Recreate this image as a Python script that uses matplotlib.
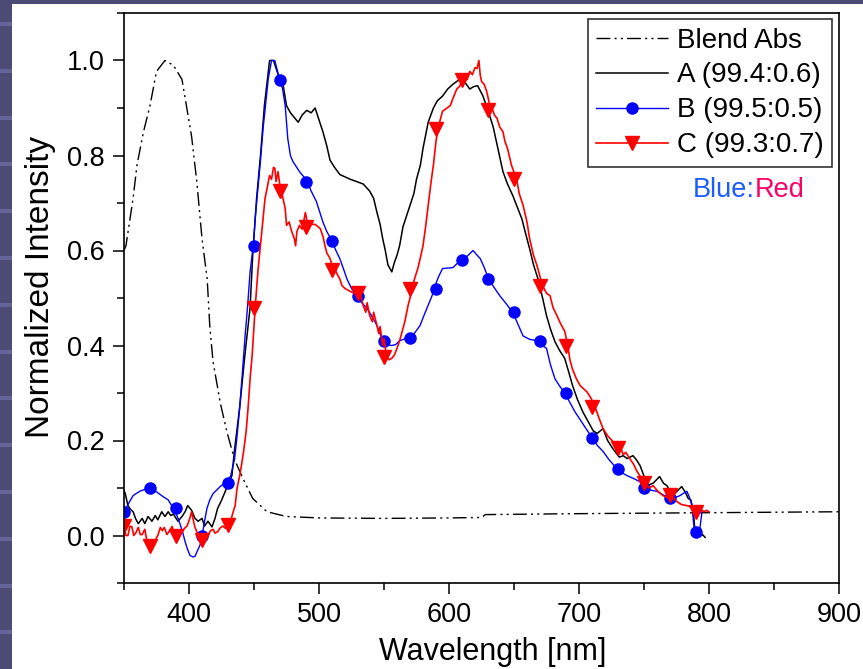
import matplotlib
matplotlib.use("Agg")
import matplotlib.pyplot as plt
from matplotlib.lines import Line2D
from matplotlib.patches import Rectangle
from matplotlib.ticker import MultipleLocator, FormatStrFormatter

plt.rcParams['font.family'] = ['Liberation Sans', 'DejaVu Sans']

# ---- data ----
abs_wl = [350, 351.5, 357, 360, 365, 370, 375, 381.5, 388, 394.6, 398, 402, 406, 410, 414, 416,
          418.5, 424, 429, 435, 441.5, 449, 460, 475, 500, 550, 600, 625, 628, 700, 800, 900]
abs_int = [0.60, 0.61, 0.71, 0.78, 0.85, 0.905, 0.977, 1.0, 0.99, 0.96, 0.905, 0.84, 0.745, 0.625, 0.54, 0.44,
           0.366, 0.28, 0.22, 0.16, 0.12, 0.078, 0.05, 0.04, 0.037, 0.036, 0.037, 0.038, 0.044, 0.046, 0.048, 0.05]

a_wl = [350, 351, 353, 355, 357, 359, 361, 364, 366, 368.5, 371.5, 374, 376, 379, 381.5, 384, 386, 388,
        391.5, 394.6, 397, 399, 402, 404.6, 407, 410, 412, 414.6, 417.7, 420, 422, 425, 429, 433, 435,
        439, 443, 447, 449, 452, 455, 458, 462, 465, 468, 470, 472, 475, 478, 481, 484, 487, 490.5, 494,
        497, 500, 503, 506, 508.5, 512, 516, 520, 524, 529, 534, 539, 542, 544.6, 547, 549, 551, 553,
        556, 558, 560, 562, 564.6, 567, 570, 573, 575, 578, 580, 584, 588, 591, 595, 599, 603, 608,
        612, 616, 619, 622, 626, 630, 634, 638, 641.5, 645, 649, 652, 656, 659, 662, 665, 668.5, 672,
        675, 678, 681.5, 685, 689, 692, 695, 699, 703, 707, 711, 714, 718.5, 722, 726, 731, 734, 737,
        741.5, 744, 747, 750, 752, 757, 762, 765, 767.6, 772, 776, 779, 782, 784, 786, 788, 789, 791,
        793, 795, 797]
a_int = [0.095, 0.088, 0.063, 0.055, 0.05, 0.035, 0.025, 0.036, 0.025, 0.04, 0.03, 0.042, 0.033, 0.05,
         0.04, 0.05, 0.042, 0.045, 0.03, 0.04, 0.05, 0.063, 0.053, 0.036, 0.03, 0.036, 0.02, 0.03, 0.018,
         0.036, 0.057, 0.074, 0.10, 0.126, 0.18, 0.27, 0.38, 0.48, 0.59, 0.71, 0.80, 0.905, 1.0, 1.0,
         0.975, 0.96, 0.955, 0.905, 0.89, 0.88, 0.87, 0.885, 0.895, 0.89, 0.90, 0.875, 0.85, 0.82, 0.79,
         0.775, 0.76, 0.755, 0.75, 0.745, 0.74, 0.725, 0.71, 0.68, 0.655, 0.625, 0.60, 0.57, 0.555, 0.575,
         0.59, 0.61, 0.65, 0.67, 0.695, 0.72, 0.75, 0.78, 0.815, 0.87, 0.90, 0.915, 0.925, 0.94, 0.95,
         0.96, 0.955, 0.94, 0.945, 0.947, 0.926, 0.895, 0.86, 0.81, 0.766, 0.74, 0.716, 0.695, 0.667,
         0.635, 0.604, 0.57, 0.54, 0.50, 0.463, 0.435, 0.408, 0.39, 0.373, 0.345, 0.316, 0.285, 0.26,
         0.24, 0.22, 0.215, 0.225, 0.20, 0.183, 0.165, 0.168, 0.162, 0.168, 0.16, 0.147, 0.125, 0.105,
         0.11, 0.124, 0.11, 0.105, 0.084, 0.095, 0.103, 0.09, 0.078, 0.075, 0.05, 0.015, 0.005, -0.002,
         0.002, -0.004]

b_wl = [350, 353, 357, 362, 366, 370, 375, 380, 384, 388, 391, 393, 395, 397, 399, 400.8, 403, 404.6,
        406, 408.5, 410, 411, 413.8, 416, 418.5, 424, 429, 432, 435, 437, 439, 441, 443, 445, 447,
        449.6, 451, 453, 455, 457, 459, 461, 463.5, 466, 469.5, 472, 474, 475, 476, 478, 480, 485,
        490.5, 494, 498, 503, 506, 510, 513, 516, 519, 521.5, 525, 529, 533, 537, 541, 544.6, 547, 549,
        552, 556, 559, 562, 566, 570, 574, 577.7, 581, 584, 587, 589, 592, 595, 599, 603, 606, 610, 614,
        618.5, 621, 624, 627, 630, 634, 639, 644, 649, 653, 657, 662, 668.5, 672, 675, 678, 681.5, 685,
        689, 693, 697, 703, 710, 714, 718.5, 723, 729, 733, 737, 742, 747, 752, 756, 760, 765, 770, 774,
        777.7, 781, 783, 785, 787, 788, 789, 791, 793, 794.6]
b_int = [0.05, 0.065, 0.084, 0.093, 0.097, 0.099, 0.092, 0.082, 0.075, 0.057, 0.04, 0.025, 0.008, -0.013,
         -0.03, -0.042, -0.045, -0.044, -0.035, -0.02, 0.0, 0.015, 0.057, 0.075, 0.088, 0.103, 0.114,
         0.125, 0.16, 0.21, 0.27, 0.34, 0.415, 0.48, 0.555, 0.615, 0.67, 0.73, 0.79, 0.857, 0.91, 0.962,
         1.0, 1.0, 0.962, 0.94, 0.905, 0.87, 0.835, 0.80, 0.787, 0.766, 0.748, 0.725, 0.703, 0.66, 0.64,
         0.62, 0.60, 0.583, 0.56, 0.54, 0.52, 0.505, 0.49, 0.478, 0.46, 0.442, 0.425, 0.41, 0.402, 0.40,
         0.402, 0.41, 0.414, 0.416, 0.428, 0.442, 0.465, 0.485, 0.505, 0.524, 0.545, 0.562, 0.563, 0.564,
         0.572, 0.579, 0.588, 0.60, 0.592, 0.583, 0.565, 0.543, 0.525, 0.505, 0.488, 0.47, 0.445, 0.42,
         0.413, 0.41, 0.40, 0.394, 0.36, 0.33, 0.315, 0.30, 0.28, 0.26, 0.235, 0.206, 0.19, 0.177, 0.16,
         0.141, 0.132, 0.126, 0.12, 0.113, 0.099, 0.095, 0.093, 0.085, 0.078, 0.08, 0.084, 0.09, 0.093,
         0.08, 0.063, 0.03, 0.008, 0.008, 0.015, 0.05]
b_mark_wl = [350, 370, 390, 410, 430, 450, 470, 490, 510, 530, 550, 570, 590, 610, 630, 650, 670, 690,
             710, 730, 750, 770, 790]
b_mark_int = [0.05, 0.099, 0.057, 0.0, 0.11, 0.61, 0.96, 0.745, 0.62, 0.505, 0.41, 0.415, 0.52, 0.58,
              0.54, 0.47, 0.41, 0.30, 0.205, 0.14, 0.10, 0.08, 0.008]

c_wl = [350, 351.5, 353, 354.5, 356, 357.5, 359, 361, 362.5, 364, 366, 367.5, 369, 371.5, 373, 374, 376,
        378, 379.5, 381, 383, 385, 387, 389, 390.6, 392.5, 394.6, 396.5, 398.5, 400.5, 402, 403.5, 404.6,
        406.5, 408.5, 410, 412, 413.5, 414.6, 416.5, 418.5, 420, 422, 424, 426, 428, 430, 432, 434, 435.5,
        437, 439, 440.5, 442, 444, 445.6, 447, 448.6, 451, 453, 456, 458.5, 460, 462, 463.5, 465, 466,
        467, 468.5, 470, 471.5, 474, 475, 477, 479, 481, 482, 483, 485, 487, 488.5, 489.5, 491.5, 494,
        497, 501, 503, 504.6, 506, 508.5, 510, 512, 514, 516, 517.7, 520, 524, 527, 531.5, 534, 536, 537,
        539, 541, 542, 544.6, 546, 547, 549, 550, 552, 554, 556, 558, 560, 562, 564.6, 566, 568.5, 570,
        572, 574, 576, 578, 580, 582, 584, 586, 588, 590, 591.5, 595, 598.5, 601, 603, 606, 608, 611, 614,
        616, 618, 620, 621.5, 623, 624, 625, 627, 629, 631, 633, 635, 637, 639, 641.5, 643, 645, 648, 652,
        654, 657, 660, 662, 665, 667.7, 670, 672, 675, 677.7, 680, 683, 686, 689, 691.5, 693, 695, 698,
        700.8, 703, 706, 709, 712, 715, 718.5, 722, 726, 729, 731.5, 734, 736, 739, 742, 744.6, 747, 751,
        754, 757, 760, 762, 764.6, 768, 771.5, 774, 776, 779, 783, 786, 788, 790, 791.5, 794, 796, 798, 800]
c_int = [0.019, 0.0, 0.0, 0.019, 0.019, 0.0, 0.005, 0.017, 0.002, 0.002, 0.013, -0.01, -0.01, -0.023,
         -0.015, -0.01, 0.0, 0.017, 0.01, 0.017, 0.002, 0.01, 0.019, 0.0, 0.0, 0.01, 0.006, 0.015, 0.02,
         0.035, 0.05, 0.03, 0.017, 0.005, 0.0, -0.008, -0.01, -0.003, 0.0, 0.01, 0.013, 0.005, 0.008, 0.016,
         0.02, 0.015, 0.024, 0.03, 0.05, 0.063, 0.10, 0.126, 0.15, 0.177, 0.22, 0.274, 0.33, 0.38, 0.484,
         0.556, 0.64, 0.71, 0.73, 0.758, 0.75, 0.775, 0.773, 0.745, 0.766, 0.735, 0.72, 0.688, 0.653, 0.66,
         0.64, 0.625, 0.61, 0.64, 0.653, 0.645, 0.665, 0.68, 0.653, 0.655, 0.655, 0.646, 0.63, 0.61, 0.595,
         0.583, 0.57, 0.562, 0.55, 0.54, 0.526, 0.52, 0.514, 0.51, 0.51, 0.484, 0.47, 0.49, 0.463, 0.45,
         0.47, 0.442, 0.425, 0.44, 0.40, 0.415, 0.377, 0.37, 0.373, 0.38, 0.394, 0.41, 0.436, 0.45, 0.484,
         0.50, 0.526, 0.545, 0.562, 0.585, 0.61, 0.65, 0.695, 0.74, 0.78, 0.83, 0.857, 0.893, 0.90, 0.905,
         0.92, 0.94, 0.945, 0.962, 0.96, 0.977, 0.97, 0.985, 0.983, 1.0, 0.97, 0.956, 0.95, 0.935, 0.91,
         0.90, 0.885, 0.878, 0.86, 0.85, 0.83, 0.815, 0.78, 0.75, 0.72, 0.695, 0.66, 0.625, 0.59, 0.568,
         0.545, 0.526, 0.51, 0.505, 0.48, 0.463, 0.445, 0.43, 0.398, 0.37, 0.35, 0.33, 0.316, 0.31, 0.303,
         0.29, 0.274, 0.25, 0.225, 0.21, 0.198, 0.19, 0.19, 0.17, 0.175, 0.162, 0.15, 0.135, 0.125, 0.109,
         0.10, 0.105, 0.095, 0.09, 0.084, 0.08, 0.084, 0.075, 0.07, 0.065, 0.063, 0.06, 0.057, 0.045, 0.05,
         0.055, 0.05, 0.053, 0.05]
c_mark_wl = [350, 370, 390, 410, 430, 450, 470, 490, 510, 530, 550, 570, 590, 610, 630, 650, 670, 690,
             710, 730, 750, 770, 790]
c_mark_int = [0.019, -0.023, 0.0, -0.01, 0.022, 0.48, 0.725, 0.65, 0.56, 0.51, 0.375, 0.52, 0.855, 0.96,
              0.895, 0.75, 0.525, 0.40, 0.27, 0.185, 0.11, 0.085, 0.05]

labels = ['Blend Abs', 'A (99.4:0.6)', 'B (99.5:0.5)', 'C (99.3:0.7)']

# ---- figure with slide-like background ----
fig = plt.figure(figsize=(8.63, 6.69), dpi=100, facecolor='#4b4b76')
W, H = 863, 669
for k in range(15):
    yy = 22 + 46.8 * k
    fig.patches.append(Rectangle((0, 1 - (yy + 4) / H), 12 / W, 4 / H, transform=fig.transFigure,
                                 facecolor='#65659a', edgecolor='none', zorder=-2))
fig.patches.append(Rectangle((12 / W, 0), 1 - 12 / W, 1 - 4 / H, transform=fig.transFigure,
                             facecolor='white', edgecolor='none', zorder=-1))

ax = fig.add_axes([124 / W, 1 - 583 / H, 715 / W, 570 / H])
ax.set_zorder(1)
ax.set_facecolor('white')

dashdot2 = (0, (10, 3, 1.5, 3, 1.5, 3))
ax.plot(abs_wl, abs_int, color='black', lw=1.0, linestyle=dashdot2)
ax.plot(a_wl, a_int, color='black', lw=1.1)
ax.plot(b_wl, b_int, color='blue', lw=1.0)
ax.plot(b_mark_wl, b_mark_int, ls='none', marker='o', ms=8, color='blue', mec='blue')
ax.plot(c_wl, c_int, color='red', lw=1.2)
ax.plot(c_mark_wl, c_mark_int, ls='none', marker='v', ms=10, color='red', mec='red')

ax.set_xlim(350, 900)
ax.set_ylim(-0.1, 1.1)
ax.xaxis.set_major_locator(MultipleLocator(100))
ax.xaxis.set_minor_locator(MultipleLocator(50))
ax.yaxis.set_major_locator(MultipleLocator(0.2))
ax.yaxis.set_minor_locator(MultipleLocator(0.1))
ax.yaxis.set_major_formatter(FormatStrFormatter('%.1f'))
ax.tick_params(which='major', direction='out', length=8, width=1.1, labelsize=19.5, pad=6)
ax.tick_params(which='minor', direction='out', length=5, width=1.1)
for s in ax.spines.values():
    s.set_linewidth(1.2)

ax.set_xlabel('Wavelength [nm]', fontsize=22, labelpad=6)
ax.xaxis.label.set_x(0.516)
ax.set_ylabel('Normalized Intensity', fontsize=24, labelpad=8)
ax.yaxis.label.set_y(0.52)

handles = [
    Line2D([], [], color='black', lw=1.0, linestyle=dashdot2),
    Line2D([], [], color='black', lw=1.1),
    Line2D([], [], color='blue', lw=1.0, marker='o', ms=8),
    Line2D([], [], color='red', lw=1.2, marker='v', ms=10),
]
leg = ax.legend(handles, labels, loc='upper right', bbox_to_anchor=(0.99, 0.989), borderaxespad=0,
                fontsize=20, frameon=True, fancybox=False, shadow=False, handlelength=2.6,
                handletextpad=0.3, labelspacing=0.32, borderpad=0.3)
leg.get_frame().set_edgecolor('black')
leg.get_frame().set_linewidth(1.2)

ax.text(0.8825, 0.690, 'Blue:', color='#1a5cff', fontsize=19.5, ha='right', va='center',
        transform=ax.transAxes)
ax.text(0.8825, 0.690, 'Red', color='#ff0066', fontsize=19.5, ha='left', va='center',
        transform=ax.transAxes)

fig.savefig('out.png', dpi=100, facecolor=fig.get_facecolor())
